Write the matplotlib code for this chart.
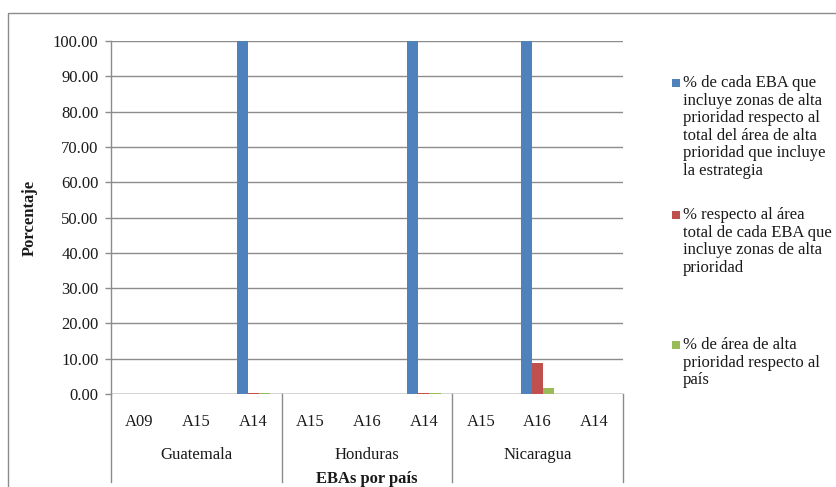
import matplotlib
matplotlib.use("Agg")
import matplotlib.pyplot as plt
import matplotlib.transforms as mtransforms
from matplotlib.patches import Rectangle
import numpy as np

# Data
countries = ["Guatemala", "Honduras", "Nicaragua"]
ebas = [["A09", "A15", "A14"], ["A15", "A16", "A14"], ["A15", "A16", "A14"]]
pct_total_alta = [0, 0, 100, 0, 0, 100, 0, 100, 0]
pct_area_eba = [0, 0, 0.3, 0, 0, 0.3, 0, 8.7, 0]
pct_pais = [0, 0, 0.2, 0, 0, 0.2, 0, 1.8, 0]
series_labels = [
    "% de cada EBA que\nincluye zonas de alta\nprioridad respecto al\ntotal del área de alta\nprioridad que incluye\nla estrategia",
    "% respecto al área\ntotal de cada EBA que\nincluye zonas de alta\nprioridad",
    "% de área de alta\nprioridad respecto al\npaís",
]
yticks = [0, 10, 20, 30, 40, 50, 60, 70, 80, 90, 100]

colors = ["#4F81BD", "#C0504D", "#9BBB59"]
grid_c = "#8C8C8C"
txt_c = "#1A1A1A"
serif = ["Liberation Serif", "DejaVu Serif"]
plt.rcParams["font.family"] = serif
fs = 12

W, H = 836, 487
fig = plt.figure(figsize=(W / 100, H / 100), dpi=100)

# outer chart border
fig.patches.append(Rectangle((8 / W, -0.05), 1.2, (H - 13) / H + 0.05,
                             transform=fig.transFigure, fill=False,
                             edgecolor="#8C8C8C", linewidth=1.0))

ax = fig.add_axes([111 / W, (H - 394) / H, (623 - 111) / W, 353 / H])
n = len(pct_total_alta)
x = np.arange(n) + 0.5
bw = 0.195
for k, vals in enumerate([pct_total_alta, pct_area_eba, pct_pais]):
    ax.bar(x + (k - 1) * bw, vals, width=bw, color=colors[k], zorder=3,
           linewidth=0)

ax.set_xlim(0, n)
ax.set_ylim(0, 100)
ax.set_yticks(yticks)
ax.set_yticklabels([f"{v:.2f}" for v in yticks], fontsize=fs, color=txt_c)
ax.tick_params(axis="y", length=4, width=1, color=grid_c, pad=5)
ax.set_xticks([])
ax.grid(axis="y", color=grid_c, linewidth=1.0, zorder=0)
for s in ["top", "right", "bottom"]:
    ax.spines[s].set_visible(False)
ax.spines["left"].set_color(grid_c)
ax.spines["left"].set_linewidth(1.0)
ax.axhline(0, color=grid_c, linewidth=1.0, zorder=2)

# multi-level category axis
trans = mtransforms.blended_transform_factory(ax.transData, fig.transFigure)
for i, lab in enumerate([e for grp in ebas for e in grp]):
    ax.text(x[i], (H - 422) / H, lab, transform=trans, ha="center",
            va="center", fontsize=fs, color=txt_c)
for g, c in enumerate(countries):
    ax.text(3 * g + 1.5, (H - 455) / H, c, transform=trans, ha="center",
            va="center", fontsize=fs, color=txt_c)
for b in [0, 3, 6, 9]:
    ax.plot([b, b], [(H - 394) / H, (H - 482) / H], transform=trans,
            color=grid_c, linewidth=1.0, clip_on=False)

fig.text(367 / W, (H - 479) / H, "EBAs por país", ha="center", va="center",
         fontsize=fs, fontweight="bold", color=txt_c)
fig.text(30 / W, (H - 218) / H, "Porcentaje", ha="center", va="center",
         rotation=90, fontsize=fs, fontweight="bold", color=txt_c)

# legend
legend_tops = [83, 215, 345]
for k, lab in enumerate(series_labels):
    y0 = legend_tops[k]
    fig.patches.append(Rectangle((672 / W, (H - y0 - 4) / H), 8 / W, 8 / H,
                                 transform=fig.transFigure,
                                 facecolor=colors[k], edgecolor="none"))
    fig.text(683 / W, (H - y0 + 8) / H, lab, ha="left", va="top",
             fontsize=fs, linespacing=1.13, color=txt_c)

fig.savefig("out.png", dpi=100, facecolor="white")
